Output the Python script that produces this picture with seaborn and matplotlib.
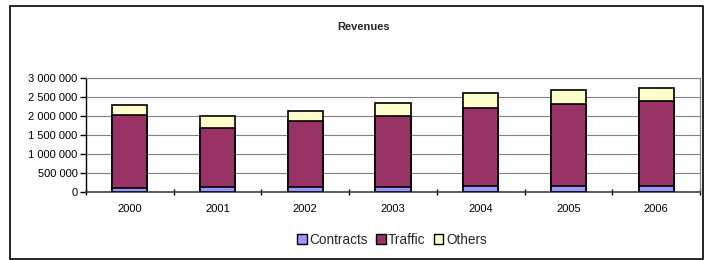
import matplotlib
matplotlib.use("Agg")
import matplotlib.pyplot as plt
import seaborn as sns
import pandas as pd
import numpy as np
from matplotlib.patches import Rectangle, Patch
from matplotlib.ticker import FuncFormatter, MultipleLocator

years = ["2000", "2001", "2002", "2003", "2004", "2005", "2006"]
contracts = [100000, 130000, 140000, 130000, 150000, 150000, 160000]
traffic = [1920000, 1550000, 1730000, 1870000, 2060000, 2160000, 2230000]
others = [260000, 320000, 270000, 330000, 400000, 370000, 340000]

sns.set_theme(style="white")
plt.rcParams['font.family'] = ['Liberation Sans', 'DejaVu Sans']

W, H = 705, 260
fig = plt.figure(figsize=(W / 100, H / 100), dpi=100)
left, right, top, bottom = 86, 700, 78, 192
ax = fig.add_axes([left / W, 1 - bottom / H, (right - left) / W, (bottom - top) / H])

df = pd.DataFrame({"year": years, "c": contracts, "t": traffic, "o": others})
df["ct"] = df["c"] + df["t"]
df["cto"] = df["ct"] + df["o"]

cols = {"Contracts": "#9999FF", "Traffic": "#993366", "Others": "#FFFFCC"}
for col, name in [("cto", "Others"), ("ct", "Traffic"), ("c", "Contracts")]:
    sns.barplot(data=df, x="year", y=col, color=cols[name], width=0.4,
                edgecolor="black", linewidth=1.2, saturation=1, ax=ax, zorder=3)

ax.set_ylim(0, 3000000)
ax.set_xlim(-0.5, 6.5)
ax.yaxis.set_major_locator(MultipleLocator(500000))
ax.yaxis.set_major_formatter(FuncFormatter(lambda v, p: f"{int(v):,}".replace(",", " ")))
ax.set_xlabel("")
ax.set_ylabel("")
ax.grid(axis="y", color="#808080", linewidth=0.8, zorder=0)
ax.set_axisbelow(True)

for s in ["top", "right"]:
    ax.spines[s].set_color("#808080")
    ax.spines[s].set_linewidth(0.8)
ax.spines["left"].set_color("black")
ax.spines["bottom"].set_color("#404040")
ax.spines["left"].set_linewidth(1)
ax.spines["bottom"].set_linewidth(1.2)

ax.tick_params(axis="y", left=True, length=4, width=1, color="black", labelsize=8, pad=2, colors="black")
ax.tick_params(axis="x", bottom=False, labelsize=8, pad=3, colors="black")
# category separator ticks
ax.set_xticks(np.arange(-0.5, 7, 1), minor=True)
ax.tick_params(axis="x", which="minor", bottom=True, length=4, width=1, color="black", direction="inout")

handles = [Patch(facecolor=cols[n], edgecolor="black", linewidth=1, label=n) for n in ["Contracts", "Traffic", "Others"]]
fig.legend(handles=handles, loc="center", bbox_to_anchor=(392 / W, 1 - 240 / H), ncol=3,
           frameon=False, fontsize=9.8, handlelength=0.7, handleheight=0.7,
           handletextpad=0.2, columnspacing=0.6, borderaxespad=0)

fig.text(364 / W, 1 - 27 / H, "Revenues", ha="center", va="center", fontsize=8, fontweight="bold")

fig.patches.append(Rectangle((10 / W, 1 - 259 / H), (703 - 10) / W, (259 - 6) / H,
                             transform=fig.transFigure, fill=False, edgecolor="black", linewidth=1.2))

fig.savefig("out.png", dpi=100)
